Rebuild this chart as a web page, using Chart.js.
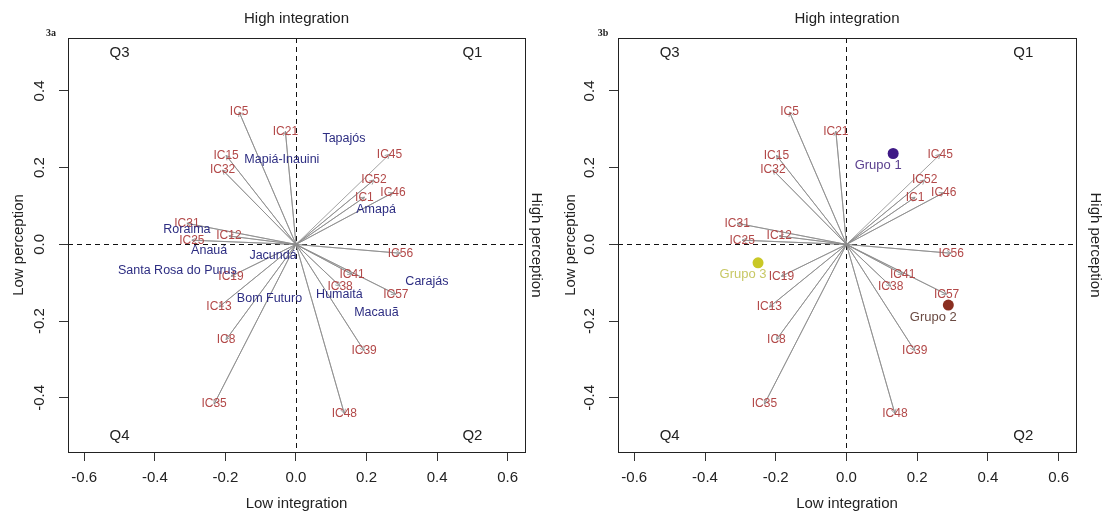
<!DOCTYPE html>
<html>
<head>
<meta charset="utf-8">
<script src="https://cdn.jsdelivr.net/npm/chart.js@4.4.1/dist/chart.umd.min.js"></script>
<style>
  body { margin: 0; background: #fff; }
  #wrap { position: relative; width: 1105px; height: 513px; }
  canvas { position: absolute; top: 0; }
</style>
</head>
<body>
<div id="wrap">
  <canvas id="panelA" width="552" height="513" style="left:0"></canvas>
  <canvas id="panelB" width="553" height="513" style="left:552px"></canvas>
</div>
<script>
// indicator arrows (same loadings in both panels)
const icLabels = ['IC5','IC21','IC15','IC32','IC31','IC25','IC12','IC19','IC13','IC8','IC35','IC48','IC39','IC57','IC38','IC41','IC56','IC1','IC46','IC52','IC45']
const icX = [-0.161,-0.03,-0.198,-0.208,-0.309,-0.295,-0.19,-0.184,-0.218,-0.198,-0.232,0.137,0.193,0.283,0.125,0.159,0.296,0.194,0.275,0.221,0.265]
const icY = [0.345,0.295,0.232,0.194,0.055,0.011,0.022,-0.083,-0.163,-0.248,-0.416,-0.441,-0.277,-0.13,-0.109,-0.078,-0.023,0.123,0.135,0.168,0.235]

// sites (panel 3a)
const siteNames = ['Tapajós','Mapiá-Inauini','Amapá','Roraima','Anauá','Jacundá','Santa Rosa do Purus','Bom Futuro','Humaitá','Carajás','Macauã']
const siteX = [0.136,-0.04,0.227,-0.309,-0.246,-0.065,-0.336,-0.075,0.123,0.371,0.228]
const siteY = [0.276,0.22,0.092,0.039,-0.017,-0.028,-0.069,-0.14,-0.13,-0.096,-0.178]

// groups (panel 3b)
const groupNames = ['Grupo 1','Grupo 2','Grupo 3']
const groupX = [0.132,0.288,-0.25]
const groupY = [0.237,-0.158,-0.048]
const groupColors = ['#3f1a86','#8a2e20','#c9c826']
const groupTextColors = ['#5a3f8e','#6a4a42','#c8c865']

// axes
const xTicks = [-0.6,-0.4,-0.2,0,0.2,0.4,0.6]
const xTickLabels = ['-0.6','-0.4','-0.2','0.0','0.2','0.4','0.6']
const yTicks = [-0.4,-0.2,0,0.2,0.4]
const yTickLabels = ['-0.4','-0.2','0.0','0.2','0.4']
const quadLabels = ['Q1','Q2','Q3','Q4']
const quadX = [0.5,0.5,-0.5,-0.5]
const quadY = [0.5,-0.5,0.5,-0.5]

const FONT = "'Liberation Sans', Arial, sans-serif"
const IC_COLOR = '#b24848'
const SITE_COLOR = '#2d2d82'

function makePanel(id, tag, withSites, withGroups, W, areaLeft, areaRight, rightTitleX) {
  const spokes = []
  icX.forEach((x, i) => { spokes.push({x: 0, y: 0}); spokes.push({x: x, y: icY[i]}) })

  const datasets = [{
    type: 'line',
    data: spokes,
    borderColor: '#8c8c8c',
    borderWidth: 0.8,
    pointRadius: 0,
    fill: false,
    tension: 0
  }]
  if (withGroups) {
    datasets.push({
      type: 'scatter',
      data: groupX.map((x, i) => ({x: x, y: groupY[i]})),
      pointRadius: 5.5,
      pointBackgroundColor: groupColors,
      pointBorderColor: groupColors,
      pointBorderWidth: 0
    })
  }

  const deco = {
    id: 'deco' + tag,
    beforeDatasetsDraw(chart) {
      const {ctx, chartArea: a, scales: {x, y}} = chart
      ctx.save()
      ctx.strokeStyle = '#111'
      ctx.lineWidth = 1
      ctx.setLineDash([5, 4])
      ctx.beginPath()
      const x0 = Math.round(x.getPixelForValue(0)) + 0.5
      const y0 = Math.round(y.getPixelForValue(0)) + 0.5
      ctx.moveTo(x0, a.top); ctx.lineTo(x0, a.bottom)
      ctx.moveTo(a.left, y0); ctx.lineTo(a.right, y0)
      ctx.stroke()
      ctx.restore()
    },
    afterDatasetsDraw(chart) {
      const {ctx, scales: {x, y}} = chart
      ctx.save()
      // small arrow heads
      ctx.strokeStyle = '#8c8c8c'
      ctx.lineWidth = 0.8
      const ox = x.getPixelForValue(0), oy = y.getPixelForValue(0)
      icX.forEach((v, i) => {
        const px = x.getPixelForValue(v), py = y.getPixelForValue(icY[i])
        const ang = Math.atan2(py - oy, px - ox)
        ctx.beginPath()
        ctx.moveTo(px - 5 * Math.cos(ang - 0.5), py - 5 * Math.sin(ang - 0.5))
        ctx.lineTo(px, py)
        ctx.lineTo(px - 5 * Math.cos(ang + 0.5), py - 5 * Math.sin(ang + 0.5))
        ctx.stroke()
      })
      ctx.textAlign = 'center'
      ctx.textBaseline = 'middle'
      ctx.font = '12px ' + FONT
      ctx.fillStyle = IC_COLOR
      icLabels.forEach((t, i) => ctx.fillText(t, x.getPixelForValue(icX[i]), y.getPixelForValue(icY[i])))
      if (withSites) {
        ctx.font = '12.5px ' + FONT
        ctx.fillStyle = SITE_COLOR
        siteNames.forEach((t, i) => ctx.fillText(t, x.getPixelForValue(siteX[i]), y.getPixelForValue(siteY[i])))
      }
      if (withGroups) {
        ctx.font = '13px ' + FONT
        groupNames.forEach((t, i) => {
          ctx.fillStyle = groupTextColors[i]
          ctx.fillText(t, x.getPixelForValue(groupX[i]) - 15, y.getPixelForValue(groupY[i]) + 12)
        })
      }
      ctx.font = '15px ' + FONT
      ctx.fillStyle = '#222'
      quadLabels.forEach((t, i) => ctx.fillText(t, x.getPixelForValue(quadX[i]), y.getPixelForValue(quadY[i])))
      ctx.restore()
    },
    afterDraw(chart) {
      const {ctx, chartArea: a, scales: {y}} = chart
      ctx.save()
      ctx.strokeStyle = '#222'
      ctx.lineWidth = 1
      ctx.strokeRect(Math.round(a.left) + 0.5, Math.round(a.top) + 0.5, Math.round(a.right - a.left), Math.round(a.bottom - a.top))
      ctx.fillStyle = '#222'
      ctx.textAlign = 'center'
      ctx.textBaseline = 'middle'
      ctx.font = '15px ' + FONT
      const cx = (a.left + a.right) / 2, cy = (a.top + a.bottom) / 2
      ctx.fillText('High integration', cx, 19)
      ctx.fillText('Low integration', cx, 504)
      // y tick labels, R style (vertical)
      yTicks.forEach((v, i) => {
        ctx.save()
        ctx.translate(a.left - 28, y.getPixelForValue(v))
        ctx.rotate(-Math.PI / 2)
        ctx.fillText(yTickLabels[i], 0, 0)
        ctx.restore()
      })
      ctx.save()
      ctx.translate(19, cy)
      ctx.rotate(-Math.PI / 2)
      ctx.fillText('Low perception', 0, 0)
      ctx.restore()
      ctx.save()
      ctx.translate(rightTitleX, cy)
      ctx.rotate(Math.PI / 2)
      ctx.fillText('High perception', 0, 0)
      ctx.restore()
      ctx.font = "bold 10px 'Liberation Serif', 'Times New Roman', serif"
      ctx.fillText(tag, 51, 33)
      ctx.restore()
    }
  }

  return new Chart(document.getElementById(id), {
    type: 'scatter',
    data: {datasets: datasets},
    options: {
      responsive: false,
      animation: false,
      events: [],
      layout: {autoPadding: false, padding: {top: 38, right: W - areaRight, left: 0, bottom: 0}},
      plugins: {legend: {display: false}, tooltip: {enabled: false}},
      scales: {
        x: {
          type: 'linear', min: -0.646, max: 0.649,
          afterBuildTicks: s => { s.ticks = xTicks.map(v => ({value: v})) },
          afterFit: s => { s.height = 61 },
          grid: {drawOnChartArea: false, drawTicks: true, tickLength: 9, color: '#333', lineWidth: 1},
          border: {display: true, color: '#222', width: 1},
          ticks: {
            padding: 8, color: '#222', maxRotation: 0, autoSkip: false,
            font: {family: FONT, size: 15},
            callback: v => xTickLabels[xTicks.indexOf(v)]
          }
        },
        y: {
          type: 'linear', min: -0.541, max: 0.538,
          afterBuildTicks: s => { s.ticks = yTicks.map(v => ({value: v})) },
          afterFit: s => { s.width = areaLeft },
          grid: {drawOnChartArea: false, drawTicks: true, tickLength: 9, color: '#333', lineWidth: 1},
          border: {display: true, color: '#222', width: 1},
          ticks: {display: false}
        }
      }
    },
    plugins: [deco]
  })
}

makePanel('panelA', '3a', true, false, 552, 68, 525, 536)
makePanel('panelB', '3b', false, true, 553, 66, 524, 543)
</script>
</body>
</html>
